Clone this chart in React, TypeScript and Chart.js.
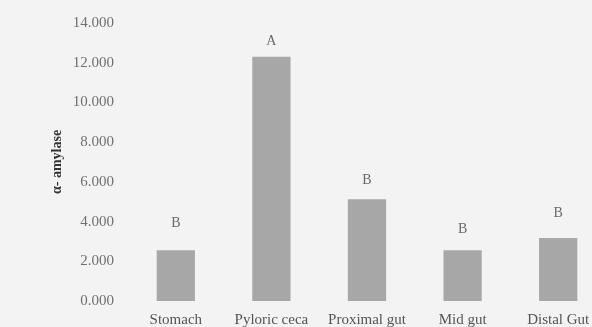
import React, { useEffect, useRef } from "react";
import { Chart, registerables } from "chart.js";

Chart.register(...registerables);

const categories = ["Stomach", "Pyloric ceca", "Proximal gut", "Mid gut", "Distal Gut"];
const amylase = [2.56, 12.3, 5.13, 2.56, 3.17];
const groupLetters = ["B", "A", "B", "B", "B"];
const letterValues = [3.9, 13.1, 6.09, 3.6, 4.4];
const yTicks = [0, 2, 4, 6, 8, 10, 12, 14];
const yTitle = "α- amylase";

const SERIF = "'Liberation Serif', 'DejaVu Serif', serif";

const letterPlugin = {
  id: "groupLetters",
  afterDatasetsDraw(chart: any) {
    const ctx = chart.ctx;
    const meta = chart.getDatasetMeta(0);
    const yScale = chart.scales.y;
    ctx.save();
    ctx.fillStyle = "#6a6a6a";
    ctx.font = `14px ${SERIF}`;
    ctx.textAlign = "center";
    ctx.textBaseline = "middle";
    meta.data.forEach((bar: any, i: number) => {
      ctx.fillText(groupLetters[i], bar.x, yScale.getPixelForValue(letterValues[i]));
    });
    ctx.restore();
  },
};

const bgPlugin = {
  id: "bg",
  beforeDraw(chart: any) {
    const { ctx, width, height } = chart;
    ctx.save();
    ctx.fillStyle = "#f3f3f3";
    ctx.fillRect(0, 0, width, height);
    ctx.restore();
  },
};

export default function App() {
  const ref = useRef<HTMLCanvasElement>(null);

  useEffect(() => {
    document.body.style.margin = "0";
    document.body.style.overflow = "hidden";
    const chart = new Chart(ref.current!, {
      type: "bar",
      data: {
        labels: categories,
        datasets: [
          {
            data: amylase,
            backgroundColor: "#a7a7a7",
            borderWidth: 0,
            barPercentage: 0.4,
            categoryPercentage: 1,
          },
        ],
      },
      options: {
        animation: false,
        responsive: false,
        maintainAspectRatio: false,
        layout: { padding: { left: 45, right: 10, top: 23, bottom: 0 } },
        plugins: { legend: { display: false }, tooltip: { enabled: false } },
        scales: {
          x: {
            grid: { display: false, drawTicks: false },
            border: { display: false },
            ticks: {
              color: "#555",
              font: { family: SERIF, size: 15 },
              padding: 10,
              maxRotation: 0,
              autoSkip: false,
            },
            afterFit(scale: any) {
              scale.height = 26;
            },
          },
          y: {
            min: 0,
            max: 14,
            afterBuildTicks(scale: any) {
              scale.ticks = yTicks.map((v) => ({ value: v }));
            },
            grid: { display: false, drawTicks: false },
            border: { display: false },
            ticks: {
              color: "#707070",
              font: { family: SERIF, size: 15 },
              padding: 14,
              callback: (v: any) => Number(v).toFixed(3),
            },
            title: {
              display: true,
              text: yTitle,
              color: "#333",
              font: { family: SERIF, size: 14, weight: "bold" },
              padding: { top: 4, bottom: 0 },
            },
            afterFit(scale: any) {
              scale.width = 83;
            },
          },
        },
      },
      plugins: [bgPlugin, letterPlugin],
    });
    return () => chart.destroy();
  }, []);

  return (
    <div style={{ position: "fixed", left: 0, top: 0, width: 592, height: 327, overflow: "hidden", background: "#f3f3f3" }}>
      <canvas ref={ref} width={616} height={327} style={{ display: "block", width: 616, height: 327 }} />
    </div>
  );
}
